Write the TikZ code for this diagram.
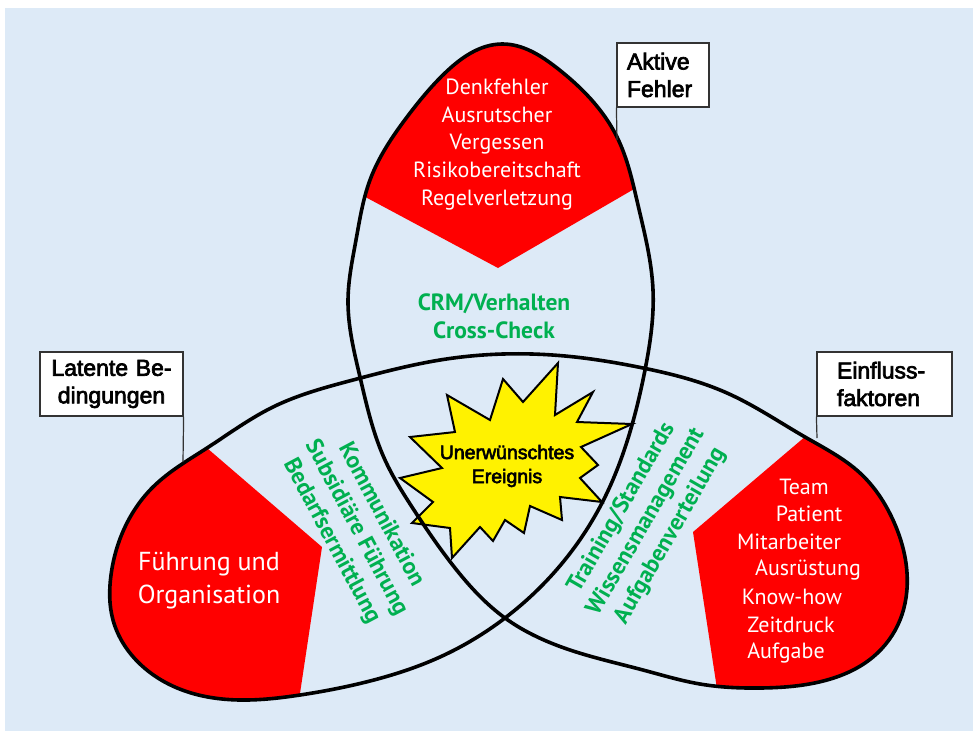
\documentclass[tikz,border=0pt]{standalone}
\usepackage{fontspec}
\setmainfont{PT Sans}
\newfontfamily\arialfont[FakeBold=3]{Liberation Sans}
\usetikzlibrary{positioning,hobby}

\definecolor{bgblue}{RGB}{221,234,247}
\definecolor{lobered}{RGB}{255,0,0}
\definecolor{cmgreen}{RGB}{0,176,80}

% the three interlaced lobes as one closed line
\def\trefoil{plot[closed hobby] coordinates {
  (502,44) (557,68) (617,137) (638,205) (653,290) (645,370) (632,425) (602,503) (505,618)
  (440,657) (370,681) (300,695) (240,700) (185,691) (140,664) (113,620) (111,575)
  (125,527) (153,487) (207,448) (273,407) (353,380) (440,360) (503,354) (565,356)
  (643,368) (727,393) (805,437) (860,473) (893,520) (907,573) (900,620) (873,657)
  (827,680) (760,688) (700,684) (643,670) (570,650) (505,618) (455,568) (412,507)
  (385,460) (360,377) (348,300) (356,240) (370,180) (407,117) (445,73)}}

\begin{document}
\begin{tikzpicture}[x=1pt,y=-1pt,
  lobe/.style={draw=black,line width=3.6pt,line join=round},
  redzone/.style={fill=lobered},
  starfill/.style={fill=yellow,draw=black,line width=2pt,line join=miter},
  labelbox/.style={draw=black!80,line width=1.2pt,fill=white,minimum height=64pt,inner ysep=2pt,
    font=\arialfont\fontsize{23}{27.5}\selectfont},
  leader/.style={draw=black!80,line width=1.2pt},
  redtext/.style={text=white,align=center,font=\fontsize{22}{27.75}\selectfont},
  greentext/.style={text=cmgreen,align=center,font=\bfseries\fontsize{23.5}{28}\selectfont},
  startext/.style={align=center,font=\arialfont\fontsize{19.5}{24}\selectfont}]
\useasboundingbox (0,0) rectangle (973,731);
\fill[white] (0,0) rectangle (973,731);
\fill[bgblue] (5,8) rectangle (973,731);

% red tips of the lobes
\begin{scope}
  \clip \trefoil;
  \fill[redzone] (328,177) -- (498,268) -- (672,167) -- (672,0) -- (328,0) -- cycle;
  \fill[redzone] (150,399) -- (322,547) -- (296,720) -- (40,720) -- (40,399) -- cycle;
  \fill[redzone] (860,390) -- (693,532) -- (721,715) -- (960,715) -- (960,390) -- cycle;
\end{scope}

% star
\draw[starfill] (558,363) -- (555,415) -- (593,392) -- (577,422) -- (632,424) -- (581,447)
  -- (598,465) -- (580,478) -- (602,502) -- (560,497) -- (562,520) -- (530,506)
  -- (524,533) -- (505,520) -- (493,541) -- (480,527) -- (452,558) -- (450,528)
  -- (412,523) -- (433,502) -- (400,478) -- (442,468) -- (410,437) -- (455,432)
  -- (447,395) -- (490,420) -- (503,379) -- (523,402) -- cycle;

\draw[lobe] \trefoil;

\node[startext] (ereignis) at (507,466) {Unerwünschtes\\Ereignis};

\node[redtext] (fehler) at (497,144.5) {Denkfehler\\Ausrutscher\\Vergessen\\Risikobereitschaft\\Regelverletzung};
\node[redtext,font=\fontsize{26}{33}\selectfont] (orga) at (209,580.5) {Führung und\\Organisation};
\foreach \txt/\xx/\yy [count=\i] in {Team/804/487,Patient/809/514,Mitarbeiter/789/542,
    Ausrüstung/808/570,Know-how/792/597,Zeitdruck/791/625,Aufgabe/786/653}
  \node[redtext] (faktor\i) at (\xx,\yy) {\txt};

\node[greentext] (crm) at (494,316.5) {CRM/Verhalten\\Cross-Check};
\node[greentext,rotate=-62] (komm) at (356,528) {Kommunikation\\Subsidiäre Führung\\Bedarfsermittlung};
\node[greentext,rotate=60] (train) at (646,522) {Training/Standards\\Wissensmanagement\\Aufgabenverteilung};

% labels
\node[labelbox,align=left,text width=72pt,inner xsep=10pt] (aktivbox) at (663,75) {Aktive\\Fehler};
\node[labelbox,align=center,text width=133pt,inner xsep=5pt] (latentbox) at (111.5,384) {Latente Be-\\dingungen};
\node[labelbox,align=left,text width=95pt,inner xsep=20pt] (einflussbox) at (884.5,384) {Einfluss-\\faktoren};
\coordinate (aktivend) at (617,140);
\coordinate (latentend) at (183,462);
\coordinate (einflussend) at (817,438);
\draw[leader] (aktivbox.south west) -- (aktivend);
\draw[leader] (latentbox.south east) -- (latentend);
\draw[leader] (einflussbox.south west) -- (einflussend);
\end{tikzpicture}
\end{document}
